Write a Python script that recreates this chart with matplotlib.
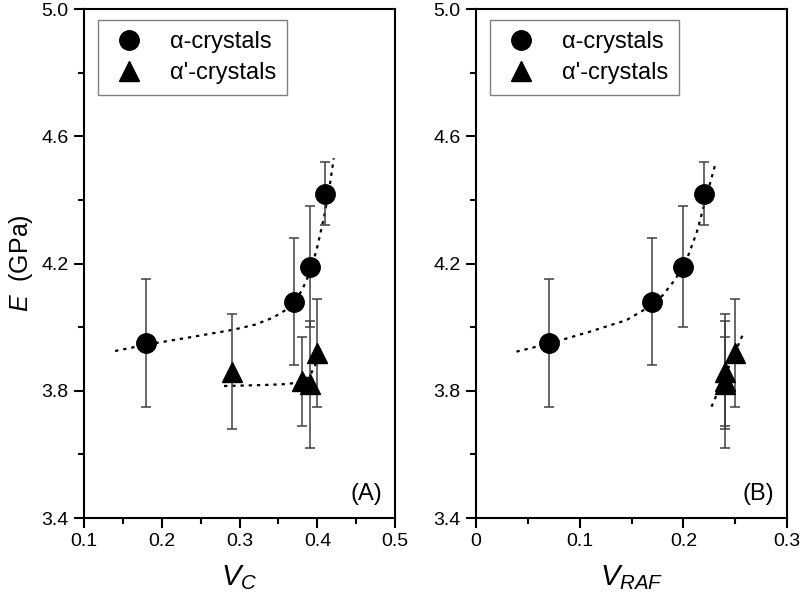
import numpy as np
import matplotlib
matplotlib.use("Agg")
import matplotlib.pyplot as plt
from matplotlib.lines import Line2D

plt.rcParams['font.family'] = ['Liberation Sans', 'DejaVu Sans']
plt.rcParams['mathtext.fontset'] = 'custom'
plt.rcParams['mathtext.it'] = 'Liberation Sans:italic'
plt.rcParams['mathtext.rm'] = 'Liberation Sans'

#-------------Data-------------
E_alpha = [3.95, 4.08, 4.19, 4.42]
E_alpha_err = [0.20, 0.20, 0.19, 0.10]
E_alphap = [3.86, 3.83, 3.82, 3.92]
E_alphap_err = [0.18, 0.14, 0.20, 0.17]

Vc_alpha = [0.18, 0.37, 0.39, 0.41]
Vc_alphap = [0.29, 0.38, 0.39, 0.40]
Vraf_alpha = [0.07, 0.17, 0.20, 0.22]
Vraf_alphap = [0.24, 0.24, 0.24, 0.25]

# dotted guide curves
fitA_alpha_x = [0.14, 0.18, 0.236, 0.292, 0.32, 0.343, 0.358, 0.37, 0.38, 0.39, 0.399, 0.408, 0.415, 0.421]
fitA_alpha_y = [3.925, 3.945, 3.968, 3.992, 4.008, 4.030, 4.052, 4.080, 4.115, 4.170, 4.243, 4.340, 4.430, 4.531]
fitA_alphap_x = [0.28, 0.33, 0.36, 0.375, 0.385, 0.392, 0.397, 0.40]
fitA_alphap_y = [3.815, 3.818, 3.821, 3.826, 3.836, 3.855, 3.880, 3.905]
fitB_alpha_x = [0.039, 0.07, 0.11, 0.145, 0.165, 0.18, 0.192, 0.203, 0.213, 0.2225, 0.2305]
fitB_alpha_y = [3.923, 3.948, 3.986, 4.022, 4.060, 4.100, 4.150, 4.211, 4.300, 4.415, 4.510]
fitB_alphap_x = [0.227, 0.257]
fitB_alphap_y = [3.750, 3.975]


def draw_panel(ax, x_a, x_ap, fit_a, fit_ap, xlim, xticks, xminor, xlabel, tag):
    ax.plot(fit_a[0], fit_a[1], color='black', linestyle=(0, (1.5, 2.2)), lw=1.6, zorder=2)
    ax.plot(fit_ap[0], fit_ap[1], color='black', linestyle=(0, (1.5, 2.2)), lw=1.6, zorder=2)

    ax.errorbar(x_a, E_alpha, yerr=E_alpha_err, fmt='o', color='black', ms=14,
                ecolor='#404040', elinewidth=1.1, capsize=3.6, capthick=1.1, zorder=3)
    ax.errorbar(x_ap, E_alphap, yerr=E_alphap_err, fmt='^', color='black', ms=14,
                ecolor='#404040', elinewidth=1.1, capsize=3.6, capthick=1.1, zorder=3)

    ax.set_xlim(*xlim)
    ax.set_ylim(3.4, 5.0)
    ax.set_xticks(xticks)
    ax.set_xticks(xminor, minor=True)
    ax.set_yticks([3.4, 3.8, 4.2, 4.6, 5.0])
    ax.set_yticks([3.6, 4.0, 4.4, 4.8], minor=True)
    ax.set_yticklabels(['3.4', '3.8', '4.2', '4.6', '5.0'])
    ax.set_xticklabels([('%g' % t) for t in xticks])
    ax.tick_params(which='major', direction='out', length=7, width=1.5, labelsize=14, pad=4)
    ax.tick_params(which='minor', direction='out', length=4, width=1.5)
    for s in ax.spines.values():
        s.set_linewidth(1.5)

    ax.set_xlabel(xlabel, fontsize=21, labelpad=9)

    handles = [Line2D([], [], marker='o', color='black', ls='none', ms=14),
               Line2D([], [], marker='^', color='black', ls='none', ms=14)]
    leg = ax.legend(handles, ["α-crystals", "α'-crystals"], loc='upper left',
                    bbox_to_anchor=(0.045, 0.978), borderaxespad=0, fontsize=17,
                    frameon=True, fancybox=False, edgecolor='#606060',
                    handletextpad=0.9, borderpad=0.45, labelspacing=0.4,
                    handlelength=1.7)
    leg.get_frame().set_linewidth(1.0)

    ax.text(0.957, 0.026, tag, transform=ax.transAxes, ha='right', va='bottom', fontsize=17)


fig = plt.figure(figsize=(8, 6.02), dpi=100)
ax1 = fig.add_axes([0.105, 0.1395, 0.389, 0.8455])
ax2 = fig.add_axes([0.595, 0.1395, 0.389, 0.8455])

draw_panel(ax1, Vc_alpha, Vc_alphap, (fitA_alpha_x, fitA_alpha_y), (fitA_alphap_x, fitA_alphap_y),
           (0.1, 0.5), [0.1, 0.2, 0.3, 0.4, 0.5], [0.15, 0.25, 0.35, 0.45], r'$V_C$', '(A)')
draw_panel(ax2, Vraf_alpha, Vraf_alphap, (fitB_alpha_x, fitB_alpha_y), (fitB_alphap_x, fitB_alphap_y),
           (0.0, 0.3), [0.0, 0.1, 0.2, 0.3], [0.05, 0.15, 0.25], r'$V_{RAF}$', '(B)')

ax1.set_ylabel(r'$E$  (GPa)', fontsize=18, labelpad=5)

fig.savefig('out.png', dpi=100)
